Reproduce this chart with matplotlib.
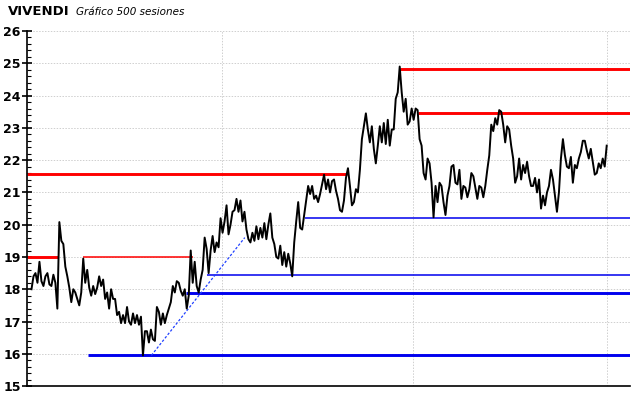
#VIVENDI 500 sessions chart
import numpy as np
import matplotlib.pyplot as plt
from matplotlib.ticker import MultipleLocator

n_sessions = 500

# price path (low/high pairs, left to right)
price = [18.0, 18.4, 18.5, 18.2, 18.85, 18.25, 18.1, 18.4, 18.5, 18.15,
         18.1, 18.45, 18.2, 17.4, 20.08, 19.5, 19.4, 18.7, 18.4, 18.05,
         17.6, 18.0, 17.9, 17.7, 17.5, 17.9, 18.95, 18.2, 18.6, 18.05,
         17.8, 18.1, 17.85, 18.05, 18.4, 18.1, 18.3, 17.7, 17.9, 17.4,
         18.0, 17.7, 17.7, 17.2, 17.3, 16.95, 17.2, 16.95, 17.45, 17.0,
         16.9, 17.25, 16.95, 17.2, 16.9, 17.15, 15.95, 16.7, 16.7, 16.35,
         16.75, 16.45, 16.4, 17.45, 17.3, 16.9, 17.25, 16.95, 17.2, 17.4,
         17.6, 18.1, 17.9, 18.25, 18.2, 17.95, 17.8, 18.0, 17.4, 17.8,
         19.2, 18.2, 18.85, 18.1, 17.9, 18.3, 18.6, 19.6, 19.25, 18.5,
         19.2, 19.65, 19.15, 19.45, 19.3, 20.2, 19.75, 20.1, 20.6, 19.7,
         20.0, 20.4, 20.45, 20.8, 20.4, 20.75, 20.1, 20.4, 19.85, 19.55,
         19.45, 19.75, 19.5, 19.95, 19.55, 19.9, 19.6, 20.05, 19.55, 20.0,
         20.35, 19.6, 19.4, 19.0, 18.95, 19.35, 18.75, 19.15, 18.7, 19.1,
         18.8, 18.4, 19.45, 20.1, 20.7, 19.9, 19.85, 20.3, 20.75, 21.2,
         20.95, 21.2, 20.8, 20.9, 20.7, 20.95, 21.25, 21.55, 21.1, 21.4,
         21.0, 21.35, 21.4, 21.05, 20.8, 20.45, 20.4, 20.75, 21.45, 21.75,
         21.2, 20.6, 20.7, 21.1, 21.0, 21.7, 22.65, 23.05, 23.45, 22.95,
         22.55, 23.05, 22.35, 21.9, 22.45, 23.05, 22.55, 23.15, 22.5, 23.25,
         22.45, 22.95, 22.95, 23.9, 24.1, 24.9, 24.1, 23.5, 23.9, 23.1,
         23.2, 23.6, 23.25, 23.6, 23.55, 22.65, 22.45, 21.6, 21.4, 22.05,
         21.9, 21.3, 20.23, 21.2, 20.7, 21.3, 21.2, 20.7, 20.3, 20.9,
         21.2, 21.8, 21.85, 21.3, 21.25, 21.7, 20.8, 21.2, 21.15, 20.85,
         21.1, 21.6, 21.5, 21.15, 20.8, 21.2, 21.15, 20.85, 21.2, 21.7,
         22.15, 23.1, 22.9, 23.3, 23.1, 23.55, 23.5, 23.1, 22.55, 23.05,
         22.95, 22.45, 22.05, 21.3, 21.5, 22.05, 21.4, 21.85, 21.6, 21.95,
         21.5, 21.2, 21.2, 21.45, 21.0, 21.4, 20.5, 20.9, 20.6, 21.0,
         21.2, 21.7, 21.4, 20.9, 20.4, 21.0, 22.05, 22.65, 22.15, 21.8,
         21.75, 22.1, 21.3, 21.85, 21.75, 22.05, 22.25, 22.6, 22.6, 22.3,
         22.05, 22.35, 21.95, 21.55, 21.6, 21.9, 21.75, 22.05, 21.8, 22.45]

# horizontal support / resistance levels
level_price = [21.57, 19.0, 19.0, 24.82, 23.46, 20.2, 18.45, 17.88, 15.97]
level_start = [-4, -4, 45, 320, 335, 237, 152, 134, 49]
level_end = [274, 23, 140, 519, 519, 519, 519, 519, 519]
level_width = [2.1, 2.1, 1.1, 2.1, 2.1, 1.1, 1.1, 2.1, 2.1]
level_color = ['#ff0000', '#ff0000', '#ff0000', '#ff0000', '#ff0000',
               '#0000ee', '#0000ee', '#0000ee', '#0000ee']

# trend line (dotted blue)
trend_x = [104, 185]
trend_y = [15.95, 19.6]

x_right = 519
vgrid = [165, 331, 499]

fig = plt.figure(figsize=(6.4, 3.98), dpi=100)
ax = fig.add_axes([0.042, 0.03, 0.942, 0.892])

x = np.linspace(0, n_sessions - 1, len(price))

ax.set_xlim(-4, x_right)
ax.set_ylim(15, 26)

# grid
for yy in range(16, 27):
    ax.axhline(yy, color='#cfcfcf', lw=0.7, ls=(0, (1.5, 1.5)), zorder=0)
for xv in vgrid:
    ax.axvline(xv, color='#cfcfcf', lw=0.7, ls=(0, (1.5, 1.5)), zorder=0)

for p, s, e, w, c in zip(level_price, level_start, level_end, level_width, level_color):
    ax.hlines(p, s, e, colors=c, lw=w, zorder=2)

ax.plot(trend_x, trend_y, color='#2040ff', lw=0.9, ls=(0, (2, 1.5)), zorder=2)

ax.plot(x, price, color='black', lw=1.4, zorder=3)

# axes styling
for side in ['top', 'right']:
    ax.spines[side].set_visible(False)
ax.spines['left'].set_linewidth(1.2)
ax.spines['bottom'].set_linewidth(1.2)
ax.set_xticks([])
ax.yaxis.set_major_locator(MultipleLocator(1))
ax.yaxis.set_minor_locator(MultipleLocator(0.2))
ax.tick_params(axis='y', which='major', direction='inout', length=7, width=1.2,
               labelsize=9, pad=1)
ax.tick_params(axis='y', which='minor', direction='in', length=3, width=0.8)
for lab in ax.get_yticklabels():
    lab.set_fontweight('bold')

fig.text(0.012, 0.97, 'VIVENDI', fontsize=9.5, fontweight='bold', va='center')
fig.text(0.118, 0.97, 'Gráfico 500 sesiones', fontsize=7.5, style='italic', va='center')

plt.savefig('out.png', dpi=100)
plt.close()
